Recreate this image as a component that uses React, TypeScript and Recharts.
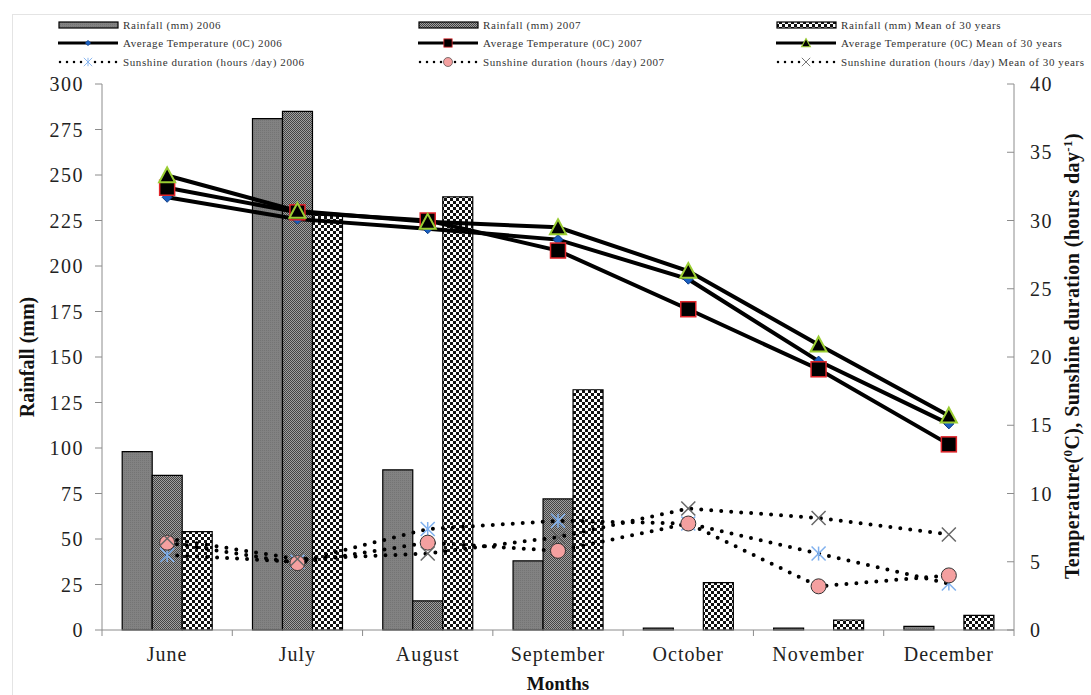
import React from 'react';
import { ComposedChart, Bar, Line, XAxis, YAxis } from 'recharts';

// values
const months = ['June', 'July', 'August', 'September', 'October', 'November', 'December'];
const rain2006 = [98, 281, 88, 38, 1, 1, 2];
const rain2007 = [85, 285, 16, 72, 0, 0, 0];
const rainMean = [54, 228, 238, 132, 26, 5.5, 8];
const temp2006 = [31.7, 30.1, 29.4, 28.6, 25.7, 19.7, 15.1];
const temp2007 = [32.4, 30.6, 30.0, 27.8, 23.5, 19.1, 13.6];
const tempMean = [33.3, 30.7, 29.9, 29.5, 26.3, 20.9, 15.7];
const sun2006 = [5.5, 5.0, 7.4, 8.0, 7.8, 5.6, 3.4];
const sun2007 = [6.4, 4.9, 6.4, 5.8, 7.8, 3.2, 4.0];
const sunMean = [6.7, 5.2, 5.6, 6.8, 8.9, 8.2, 7.0];
const rainTicks = [0, 25, 50, 75, 100, 125, 150, 175, 200, 225, 250, 275, 300];
const rightTicks = [0, 5, 10, 15, 20, 25, 30, 35, 40];

const data = months.map((m, i) => ({
  month: m,
  r06: rain2006[i],
  r07: rain2007[i],
  rMean: rainMean[i],
  t06: temp2006[i],
  t07: temp2007[i],
  tMean: tempMean[i],
  s06: sun2006[i],
  s07: sun2007[i],
  sMean: sunMean[i],
}));

const FONT = '"Liberation Serif", "Times New Roman", serif';
const AXIS = '#8c8c8c';

// marker shapes
const Diamond = ({ cx, cy, s = 5 }: any) => (
  <polygon points={`${cx},${cy - s} ${cx + s},${cy} ${cx},${cy + s} ${cx - s},${cy}`} fill="#1a5fc0" stroke="#0d3c85" strokeWidth={1} />
);
const Square = ({ cx, cy, s = 7.5 }: any) => (
  <rect x={cx - s} y={cy - s} width={2 * s} height={2 * s} fill="#000" stroke="#e0262b" strokeWidth={1.5} />
);
const Triangle = ({ cx, cy, s = 8 }: any) => (
  <polygon points={`${cx},${cy - s} ${cx + s},${cy + s * 0.85} ${cx - s},${cy + s * 0.85}`} fill="#000" stroke="#9acd32" strokeWidth={2} />
);
const Circle = ({ cx, cy, r = 7.5 }: any) => (
  <circle cx={cx} cy={cy} r={r} fill="#f4a0a0" stroke="#333" strokeWidth={1} />
);
const Cross = ({ cx, cy, s = 7 }: any) => (
  <g stroke="#666" strokeWidth={1.5}>
    <line x1={cx - s} y1={cy - s} x2={cx + s} y2={cy + s} />
    <line x1={cx - s} y1={cy + s} x2={cx + s} y2={cy - s} />
  </g>
);
const Star = ({ cx, cy, s = 7 }: any) => (
  <g stroke="#7fb0ee" strokeWidth={1.5}>
    <line x1={cx - s} y1={cy - s} x2={cx + s} y2={cy + s} />
    <line x1={cx - s} y1={cy + s} x2={cx + s} y2={cy - s} />
    <line x1={cx} y1={cy - s} x2={cx} y2={cy + s} />
  </g>
);

const dotOf = (Shape: any) => (p: any) => <Shape key={`d-${p.index}`} cx={p.cx} cy={p.cy} />;

const XTick = ({ x, y, payload, index }: any) => {
  const half = payload.offset || 65;
  return (
    <g>
      <line x1={x - half} y1={y} x2={x - half} y2={y + 6} stroke={AXIS} />
      {index === months.length - 1 && <line x1={x + half} y1={y} x2={x + half} y2={y + 6} stroke={AXIS} />}
      <text x={x} y={y + 31} textAnchor="middle" fontSize={20} letterSpacing={1} fill="#222" fontFamily={FONT}>
        {payload.value}
      </text>
    </g>
  );
};

const LeftTick = ({ x, y, payload }: any) => (
  <text x={x} y={y + 7} textAnchor="end" fontSize={20} letterSpacing={1.5} fill="#222" fontFamily={FONT}>
    {payload.value}
  </text>
);

const RightTick = ({ x, y, payload }: any) => (
  <g>
    <line x1={x - 7} y1={y} x2={x} y2={y} stroke={AXIS} />
    <text x={x + 16} y={y + 7} textAnchor="start" fontSize={20} letterSpacing={1.5} fill="#222" fontFamily={FONT}>
      {payload.value}
    </text>
  </g>
);

const legendRows = [
  [
    { kind: 'bar', fill: 'url(#p06)', label: 'Rainfall  (mm) 2006' },
    { kind: 'bar', fill: 'url(#p07)', label: 'Rainfall  (mm) 2007' },
    { kind: 'bar', fill: 'url(#pMean)', label: 'Rainfall  (mm) Mean of 30 years' },
  ],
  [
    { kind: 'line', shape: Diamond, label: 'Average Temperature (0C) 2006' },
    { kind: 'line', shape: Square, label: 'Average Temperature (0C) 2007' },
    { kind: 'line', shape: Triangle, label: 'Average Temperature (0C) Mean of 30 years' },
  ],
  [
    { kind: 'dots', shape: Star, label: 'Sunshine duration (hours /day) 2006' },
    { kind: 'dots', shape: Circle, label: 'Sunshine duration (hours /day) 2007' },
    { kind: 'dots', shape: Cross, label: 'Sunshine duration (hours /day) Mean of 30 years' },
  ],
];
const legendX = [58, 418, 776];
const legendY = [25, 43, 62];

const LegendSymbol = ({ item }: any) => {
  const Shape = item.shape;
  return (
    <svg width={62} height={14} style={{ position: 'absolute', left: 0, top: -7 }}>
      {item.kind === 'bar' && <rect x={1} y={4} width={59} height={6} fill={item.fill} stroke="#000" strokeWidth={1.2} />}
      {item.kind === 'line' && (
        <>
          <line x1={0} y1={7} x2={60} y2={7} stroke="#000" strokeWidth={3} />
          <g transform="translate(30 7) scale(0.55) translate(-30 -7)">
            <Shape cx={30} cy={7} />
          </g>
        </>
      )}
      {item.kind === 'dots' && (
        <>
          <line x1={2} y1={7} x2={60} y2={7} stroke="#000" strokeWidth={2.5} strokeDasharray="0 7" strokeLinecap="round" />
          <g transform="translate(30 7) scale(0.6) translate(-30 -7)">
            <rect x={22} y={0} width={16} height={14} fill="#fff" />
            <Shape cx={30} cy={7} />
          </g>
        </>
      )}
    </svg>
  );
};

const App = () => {
  return (
    <div style={{ position: 'absolute', left: 0, top: 0, width: 1091, height: 695, background: '#fff', overflow: 'hidden', fontFamily: FONT }}>
      <svg width={0} height={0} style={{ position: 'absolute' }}>
        <defs>
          <pattern id="p06" width={2} height={2} patternUnits="userSpaceOnUse">
            <rect width={2} height={2} fill="#828282" />
            <rect width={1} height={1} fill="#747474" />
          </pattern>
          <pattern id="p07" width={2} height={2} patternUnits="userSpaceOnUse">
            <rect width={2} height={2} fill="#a0a0a0" />
            <rect width={1} height={1} fill="#444" />
            <rect x={1} y={1} width={1} height={1} fill="#444" />
          </pattern>
          <pattern id="pMean" width={6} height={6} patternUnits="userSpaceOnUse">
            <rect width={6} height={6} fill="#fff" />
            <rect width={3} height={3} fill="#111" />
            <rect x={3} y={3} width={3} height={3} fill="#111" />
          </pattern>
        </defs>
      </svg>

      <div style={{ position: 'absolute', left: 12, top: 14, width: 1100, height: 700, borderLeft: '1px solid #e4e4e4', borderTop: '1px solid #e4e4e4' }} />

      {legendRows.map((row, r) =>
        row.map((item, c) => (
          <div key={`${r}-${c}`} style={{ position: 'absolute', left: legendX[c], top: legendY[r], height: 0 }}>
            <LegendSymbol item={item} />
            <span style={{ position: 'absolute', left: 65, top: -8, fontSize: 11, lineHeight: '16px', letterSpacing: 0.6, color: '#333', whiteSpace: 'nowrap' }}>
              {item.label}
            </span>
          </div>
        ))
      )}

      <div style={{ position: 'absolute', left: 0, top: 0 }}>
        <ComposedChart width={1091} height={695} data={data} margin={{ top: 84, right: 17, bottom: 35, left: 42 }} barCategoryGap="15.5%" barGap={0}>
          <XAxis dataKey="month" stroke={AXIS} tickLine={false} tickSize={0} tickMargin={0} tick={<XTick />} height={30} interval={0} />
          <YAxis yAxisId="left" domain={[0, 300]} ticks={rainTicks} stroke={AXIS} width={60} tickSize={7} tickMargin={11} tick={<LeftTick />} interval={0} />
          <YAxis yAxisId="right" orientation="right" domain={[0, 40]} ticks={rightTicks} stroke={AXIS} width={60} tickLine={false} tickSize={0} tickMargin={0} tick={<RightTick />} interval={0} />

          <Bar yAxisId="left" dataKey="r06" fill="url(#p06)" stroke="#000" strokeWidth={1.2} isAnimationActive={false} />
          <Bar yAxisId="left" dataKey="r07" fill="url(#p07)" stroke="#000" strokeWidth={1.2} isAnimationActive={false} />
          <Bar yAxisId="left" dataKey="rMean" fill="url(#pMean)" stroke="#000" strokeWidth={1.2} isAnimationActive={false} />

          <Line yAxisId="right" dataKey="t06" stroke="#000" strokeWidth={4} dot={dotOf(Diamond)} activeDot={false} isAnimationActive={false} />
          <Line yAxisId="right" dataKey="t07" stroke="#000" strokeWidth={4} dot={dotOf(Square)} activeDot={false} isAnimationActive={false} />
          <Line yAxisId="right" dataKey="tMean" stroke="#000" strokeWidth={4} dot={dotOf(Triangle)} activeDot={false} isAnimationActive={false} />

          <Line yAxisId="right" dataKey="s06" stroke="#000" strokeWidth={4} strokeDasharray="0 10" strokeLinecap="round" dot={dotOf(Star)} activeDot={false} isAnimationActive={false} />
          <Line yAxisId="right" dataKey="s07" stroke="#000" strokeWidth={4} strokeDasharray="0 10" strokeLinecap="round" dot={dotOf(Circle)} activeDot={false} isAnimationActive={false} />
          <Line yAxisId="right" dataKey="sMean" stroke="#000" strokeWidth={4} strokeDasharray="0 10" strokeLinecap="round" dot={dotOf(Cross)} activeDot={false} isAnimationActive={false} />
        </ComposedChart>
      </div>

      <svg width={1091} height={695} style={{ position: 'absolute', left: 0, top: 0, pointerEvents: 'none' }}>
        <text transform="translate(34 357) rotate(-90)" textAnchor="middle" fontSize={20} fontWeight="bold" fill="#111" fontFamily={FONT}>
          Rainfall (mm)
        </text>
        <text x={558} y={690} textAnchor="middle" fontSize={19} fontWeight="bold" fill="#111" fontFamily={FONT}>
          Months
        </text>
        <text transform="translate(1079 356) rotate(-90)" textAnchor="middle" fontSize={20} letterSpacing={0.4} fontWeight="bold" fill="#111" fontFamily={FONT}>
          Temperature(<tspan fontSize={13} dy={-7}>0</tspan>
          <tspan dy={7}>C),  Sunshine duration  (hours day</tspan>
          <tspan fontSize={13} dy={-7}>-1</tspan>
          <tspan dy={7}>)</tspan>
        </text>
      </svg>
    </div>
  );
};

export default App;
